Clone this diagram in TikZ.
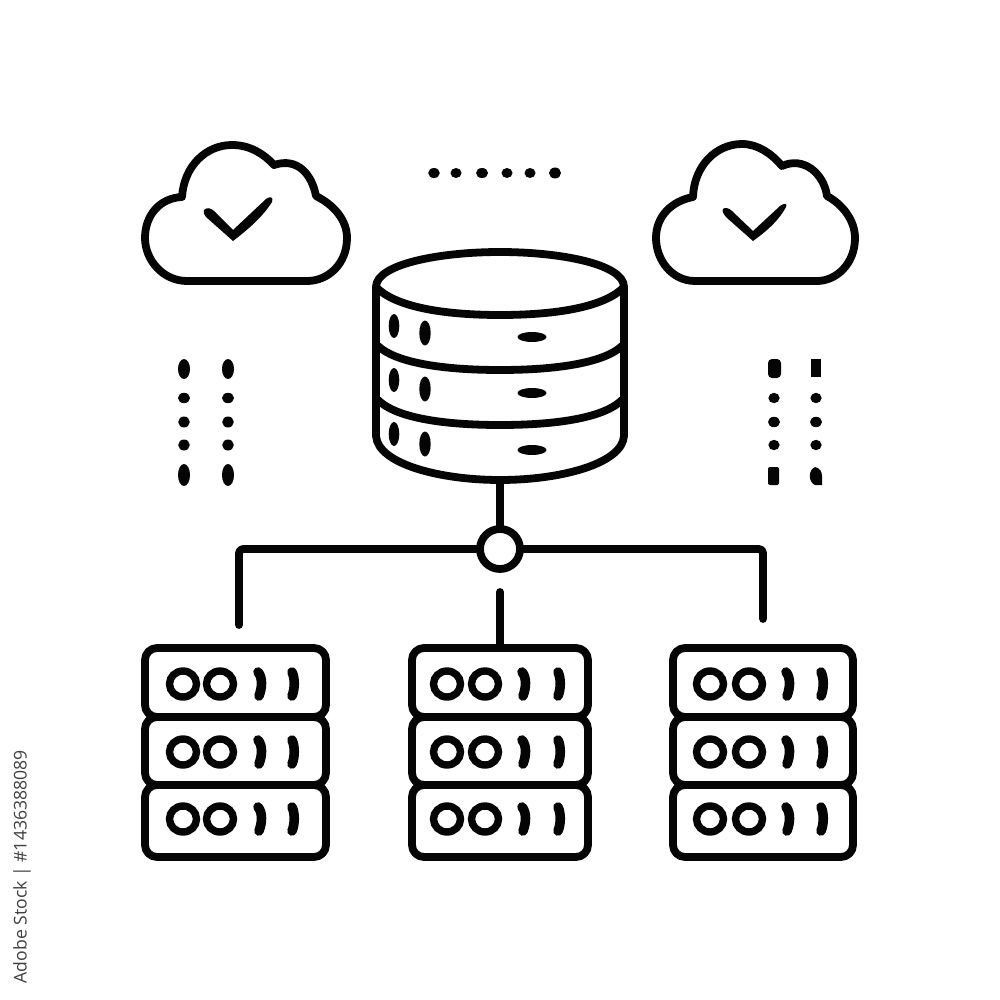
\documentclass[tikz,border=0pt]{standalone}
\usepackage{fontspec}
\setmainfont{Open Sans}
\definecolor{ink}{gray}{0.02}
\tikzset{
  x=0.5pt,y=-0.5pt,
  ln/.style={draw=ink,line width=3.9pt,line cap=round,line join=round},
  oring/.style={draw=ink,line width=3.7pt},
  onebar/.style={draw=ink,line width=4.8pt,line cap=round},
}
\newcommand{\unitrow}[5]{%
  \begin{scope}[yshift=#1]
    \draw[oring] (#2,0) ellipse [x radius=13.5,y radius=13];
    \draw[oring] (#3,0) ellipse [x radius=13.5,y radius=13];
    \draw[onebar] (#4-2,-12) .. controls (#4+3,-6) and (#4+2,4) .. (#4-1,12);
    \draw[onebar] (#5-1,-12) .. controls (#5+2,-6) and (#5+2,5) .. (#5-1,12);
  \end{scope}}
% left edge, right edge, O1, O2, bar1, bar2
\newcommand{\serverstack}[6]{%
  \draw[ln,rounded corners=6pt] (#1,648) rectangle (#2,717);
  \draw[ln,rounded corners=6pt] (#1,717) rectangle (#2,785);
  \draw[ln,rounded corners=6pt] (#1,785) rectangle (#2,857);
  \unitrow{-342pt}{#3}{#4}{#5}{#6}
  \unitrow{-376pt}{#3}{#4}{#5}{#6}
  \unitrow{-409.5pt}{#3}{#4}{#5}{#6}}
\begin{document}
\begin{tikzpicture}
\useasboundingbox (0,0) rectangle (1000,1000);
\fill[white] (0,0) rectangle (1000,1000);

% ---- left cloud
\draw[ln] (187,281) .. controls (163,281) and (145,260) .. (145,238) .. controls (145,215) and (160,198) .. (182,197)
  .. controls (184,166) and (206,145) .. (232,145) .. controls (250,145) and (264,154) .. (274,165)
  .. controls (298,157) and (312,175) .. (316,196) .. controls (334,205) and (347,220) .. (347,238)
  .. controls (347,264) and (328,281) .. (307,281) -- cycle;
\fill[ink] (204,210) .. controls (207,207) and (211,208) .. (214,211) -- (233,230) -- (266,199) .. controls (270,196) and (274,197) .. (272,202) .. controls (262,218) and (246,231) .. (233,241) -- (206,217) .. controls (204,215) and (203,212) .. (204,210) -- cycle;

% ---- right cloud
\draw[ln] (695,281) .. controls (672,281) and (656,260) .. (656,238) .. controls (656,216) and (672,201) .. (693,197)
  .. controls (694,166) and (716,144) .. (742,144) .. controls (758,144) and (772,154) .. (782,166)
  .. controls (804,156) and (824,174) .. (827,196) .. controls (842,204) and (855,220) .. (855,238)
  .. controls (855,264) and (836,281) .. (817,281) -- cycle;
\fill[ink] (723,209) .. controls (725,207) and (729,208) .. (732,211) -- (753,231) -- (780,206) .. controls (784,203) and (788,203) .. (786,207) .. controls (778,222) and (764,233) .. (753,241) -- (727,218) .. controls (723,214) and (722,211) .. (723,209) -- cycle;

% ---- top dots
\foreach \px/\rx/\ry in {434/5.8/5,456/5.5/5,482/6/5,507/5.5/5,530/5.5/5,555/6/5.5}{
  \fill[ink] (\px,173) ellipse [x radius=\rx,y radius=\ry];}

% ---- left dots
\foreach \px in {184,228}{
  \fill[ink] (\px,369) ellipse [x radius=6,y radius=10];
  \fill[ink] (\px,398) ellipse [x radius=6,y radius=5.2];
  \fill[ink] (\px,422) ellipse [x radius=5.8,y radius=5.5];
  \fill[ink] (\px,445) ellipse [x radius=5.8,y radius=5.5];
  \fill[ink] (\px,475) ellipse [x radius=6,y radius=11];
}
% ---- right dots
\fill[ink,rounded corners=2pt] (768,359) rectangle (781,378);
\fill[ink] (811,359) rectangle (821,377);
\foreach \px in {774,816}{
  \fill[ink] (\px,398) ellipse [x radius=5.6,y radius=5.2];
  \fill[ink] (\px,422) ellipse [x radius=6,y radius=5.2];
  \fill[ink] (\px,445) ellipse [x radius=5.6,y radius=5.2];
}
\fill[ink,rounded corners=1pt] (768,467) rectangle (779,485);
\fill[ink] (815,467) .. controls (820,468) and (822,472) .. (822,476) -- (822,485) -- (815,485) .. controls (808,482) and (808,470) .. (815,467) -- cycle;

% ---- cylinder
\draw[ln] (376,287) .. controls (376,264) and (440,252) .. (500,252) .. controls (560,252) and (624,264) .. (624,287) .. controls (606,306) and (560,315) .. (500,315) .. controls (440,315) and (394,306) .. (376,287) -- cycle;
\draw[ln] (376,287) -- (376,436) .. controls (378,464) and (440,480) .. (500,480) .. controls (560,480) and (622,464) .. (624,436) -- (624,287);
\draw[ln] (378,346) .. controls (395,362) and (440,370) .. (500,370) .. controls (560,370) and (605,362) .. (622,346);
\draw[ln] (378,400) .. controls (395,417) and (440,425) .. (500,425) .. controls (560,425) and (605,417) .. (622,400);
\foreach \ya/\yb/\yc in {326/333/337,380/389/393,434/444/450}{
  \fill[ink] (394,\ya) ellipse [x radius=5.3,y radius=12];
  \fill[ink] (425,\yb) ellipse [x radius=5.7,y radius=12.5];
  \fill[ink] (532,\yc) ellipse [x radius=14.5,y radius=5];
}

% ---- network
\node[circle,draw=ink,line width=3.9pt,fill=white,minimum size=20pt,inner sep=0pt] (hub) at (500,549) {};
\coordinate (cyl) at (500,480);
\coordinate (tl) at (239,625);
\coordinate (tr) at (763,619);
\coordinate (cs) at (500,592);
\coordinate (ce) at (500,648);
\draw[ln] (cyl) -- (hub);
\draw[ln,rounded corners=2pt] (hub) -- (239,549) -- (tl);
\draw[ln,rounded corners=2pt] (hub) -- (763,549) -- (tr);
\draw[ln] (cs) -- (ce);

% ---- servers
\serverstack{145}{326}{183}{220}{260}{293}
\serverstack{412}{588}{447}{485}{524}{559}
\serverstack{673}{853}{710}{749}{788}{822}

% ---- credit
\node[rotate=90,anchor=east,font=\fontsize{8.8pt}{10pt}\selectfont,text=black!75,inner sep=0pt] (credit) at (22,750) {Adobe Stock | \#1436388089};
\end{tikzpicture}
\end{document}
